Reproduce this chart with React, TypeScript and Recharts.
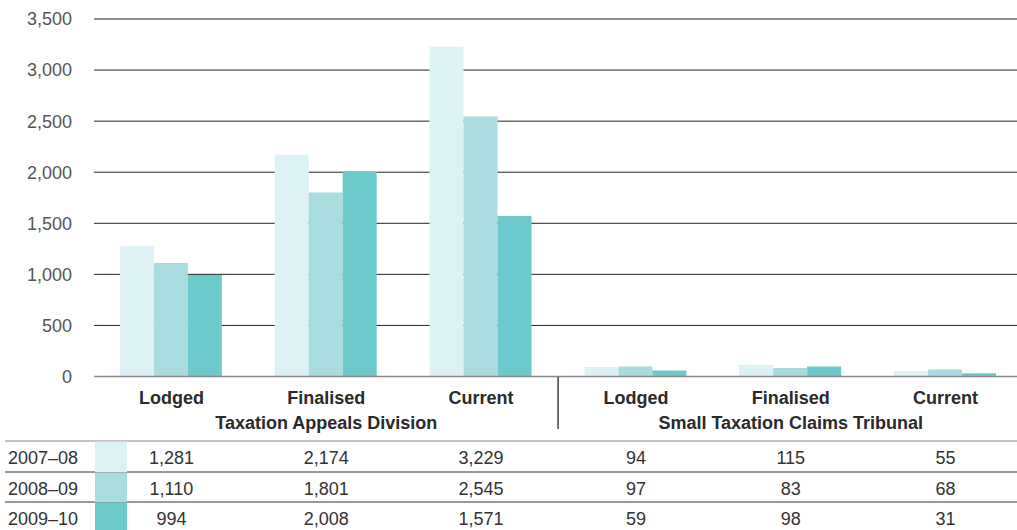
import React from "react"
import { BarChart, Bar, XAxis, YAxis, CartesianGrid } from "recharts"

const categories = ["Lodged", "Finalised", "Current", "Lodged", "Finalised", "Current"]
const divisions = ["Taxation Appeals Division", "Small Taxation Claims Tribunal"]
const years = ["2007–08", "2008–09", "2009–10"]
const y0708 = [1281, 2174, 3229, 94, 115, 55]
const y0809 = [1110, 1801, 2545, 97, 83, 68]
const y0910 = [994, 2008, 1571, 59, 98, 31]
const yTicks = [0, 500, 1000, 1500, 2000, 2500, 3000, 3500]

const colors = ["#def1f4", "#a8dcdf", "#6ccacc"]
const series = [y0708, y0809, y0910]
const font = '"Liberation Sans", Arial, sans-serif'

const data = categories.map((c, i) => ({
  key: String(i),
  name: c,
  y0708: y0708[i],
  y0809: y0809[i],
  y0910: y0910[i],
}))

const fmt = (v: number) => v.toLocaleString("en-US")

const rowTops = [441, 472, 502]
const rowBottoms = [472, 502, 530]
const rowBaselines = [463.5, 494.5, 524.5]

function CategoryTick(props: any) {
  const { x, payload, index } = props
  const i = Number(payload.value)
  return (
    <g>
      {index === 0 && (
        <g>
          <line x1={5} x2={1023} y1={441} y2={441} stroke="#888" strokeWidth={1.2} />
          <line x1={5} x2={1023} y1={472} y2={472} stroke="#333" strokeWidth={1.2} />
          <line x1={5} x2={1023} y1={502} y2={502} stroke="#333" strokeWidth={1.2} />
          {years.map((yr, r) => (
            <g key={yr}>
              <rect x={95} y={rowTops[r] + 0.6} width={32} height={rowBottoms[r] - rowTops[r] - 0.6} fill={colors[r]} />
              <text x={8} y={rowBaselines[r]} fontSize={18} fill="#333" fontFamily={font}>
                {yr}
              </text>
            </g>
          ))}
        </g>
      )}
      <text x={x} y={403.5} textAnchor="middle" fontSize={18} fontWeight={600} fill="#2a2a2a" fontFamily={font}>
        {categories[i]}
      </text>
      {(i === 1 || i === 4) && (
        <text x={x} y={428.5} textAnchor="middle" fontSize={18} fontWeight={600} fill="#2a2a2a" fontFamily={font}>
          {divisions[i === 1 ? 0 : 1]}
        </text>
      )}
      {i === 2 && <line x1={x + 77} x2={x + 77} y1={377} y2={429} stroke="#444" strokeWidth={1.5} />}
      {series.map((s, r) => (
        <text key={r} x={x} y={rowBaselines[r]} textAnchor="middle" fontSize={18} fill="#333" fontFamily={font}>
          {fmt(s[i])}
        </text>
      ))}
    </g>
  )
}

export default function App() {
  return (
    <div style={{ position: "absolute", left: 0, top: 0, width: 1017, height: 530, overflow: "hidden", background: "#fff" }}>
      <BarChart
        width={1023}
        height={530}
        data={data}
        margin={{ top: 19, right: 0, left: 0, bottom: 123.5 }}
        barCategoryGap="16.7%"
        barGap={0}
      >
        <CartesianGrid vertical={false} stroke="#222" strokeWidth={1} />
        <YAxis
          width={94}
          domain={[0, 3500]}
          ticks={yTicks}
          tickFormatter={fmt}
          axisLine={false}
          tickLine={false}
          tickSize={0}
          tickMargin={22}
          tick={{ fontSize: 18, fill: "#555", fontFamily: font }}
        />
        <XAxis
          dataKey="key"
          height={30}
          axisLine={{ stroke: "#888", strokeWidth: 1.5 }}
          tickLine={false}
          tickSize={0}
          interval={0}
          tick={<CategoryTick />}
        />
        <Bar dataKey="y0708" fill={colors[0]} isAnimationActive={false} />
        <Bar dataKey="y0809" fill={colors[1]} isAnimationActive={false} />
        <Bar dataKey="y0910" fill={colors[2]} isAnimationActive={false} />
      </BarChart>
    </div>
  )
}
